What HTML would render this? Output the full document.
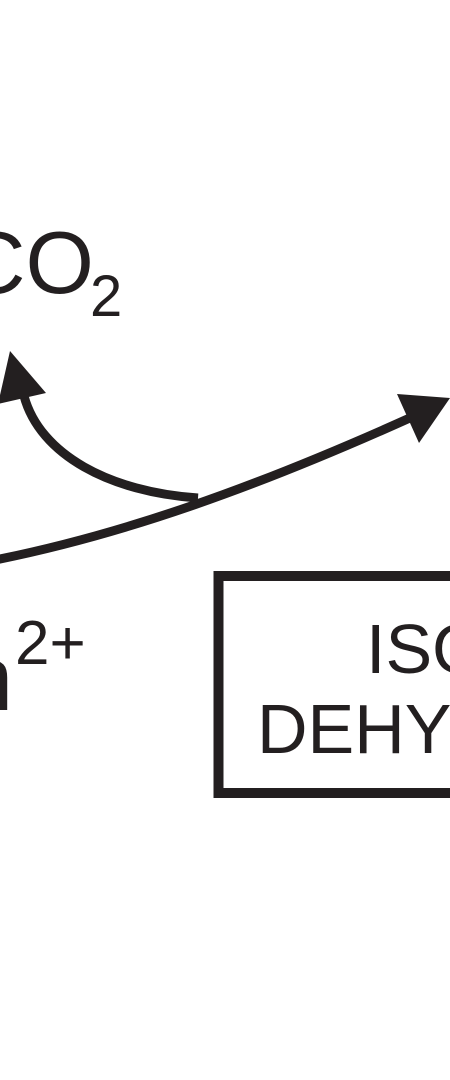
<!DOCTYPE html>
<html><head><meta charset="utf-8"><style>
html,body{margin:0;padding:0;background:#fff;width:450px;height:1080px;overflow:hidden;position:relative}
</style></head><body>
<svg width="450" height="1080" style="position:absolute;left:0;top:0">
<g fill="none" stroke="#231f20" stroke-width="9">
<path d="M-5,560 C120,535 250,490 412,417"/>
<path d="M198,498 C110,492 40,455 24,396"/>
</g>
<polygon points="10,351 46,393 -2,404" fill="#231f20"/>
<polygon points="450,398 397,394 419,443" fill="#231f20"/>
<rect x="218.5" y="576" width="260" height="217" fill="none" stroke="#231f20" stroke-width="10"/>
<text x="-38" y="293" font-family="Liberation Sans" font-size="88" fill="#231f20">CO</text>
<text x="90" y="316" font-family="Liberation Sans" font-size="58" fill="#231f20">2</text>
<text x="-38" y="710" font-family="Liberation Sans" font-size="92" fill="#231f20">n</text>
<text x="15" y="664" font-family="Liberation Sans" font-size="62" fill="#231f20">2+</text>
<text x="366" y="673" font-family="Liberation Sans" font-size="70" fill="#231f20">ISOCITRATE</text>
<text x="257" y="753" font-family="Liberation Sans" font-size="70" fill="#231f20">DEHYDROGENASE</text>
</svg>
</body></html>
